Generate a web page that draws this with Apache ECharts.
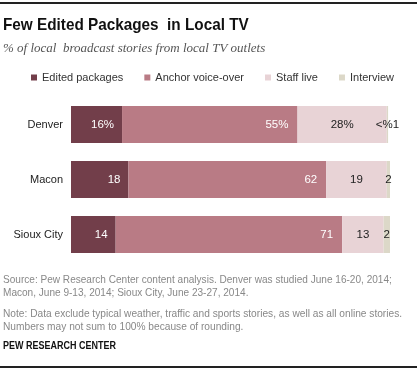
<!DOCTYPE html>
<html>
<head>
<meta charset="utf-8">
<script src="https://cdn.jsdelivr.net/npm/echarts@6/dist/echarts.min.js"></script>
<style>html,body{margin:0;padding:0;background:#fff}#c{width:417px;height:370px}</style>
</head>
<body>
<div id="c"></div>
<script>
var categories = ['Denver', 'Macon', 'Sioux City'];
var seriesNames = ['Edited packages', 'Anchor voice-over', 'Staff live', 'Interview'];
var editedPackages = [16, 18, 14];
var anchorVoiceOver = [55, 62, 71];
var staffLive = [28, 19, 13];
var interview = [0.4, 2, 2];
var editedLabels = ['16%', '18', '14'];
var anchorLabels = ['55%', '62', '71'];
var staffLabels = ['28%', '19', '13'];
var interviewLabels = ['<%1', '2', '2'];

var colors = ['#723E4A', '#B97B85', '#E8D3D6', '#DCD8C8'];
var font = "'Liberation Sans', Arial, sans-serif";

function mk(name, data, labels, color, pos, labColor, dist) {
  return {
    name: name, type: 'bar', stack: 'a', barWidth: 37,
    itemStyle: { color: color },
    data: data,
    label: {
      show: true, position: pos, distance: dist,
      color: labColor, fontFamily: font, fontSize: 11.5,
      formatter: function (p) { return labels[p.dataIndex]; }
    }
  };
}

var chart = echarts.init(document.getElementById('c'), null, { renderer: 'canvas' });
chart.setOption({
  animation: false,
  color: colors,
  grid: { left: 71, right: 27, top: 97, bottom: 108 },
  xAxis: { type: 'value', min: 0, max: 100, show: false },
  yAxis: {
    type: 'category', data: categories, inverse: true,
    axisLine: { show: false }, axisTick: { show: false },
    axisLabel: { color: '#222', fontFamily: font, fontSize: 11, margin: 8 }
  },
  legend: {
    data: seriesNames, top: 72, left: 31, width: 400, padding: 0, icon: 'rect',
    itemWidth: 6, itemHeight: 6, itemGap: 21,
    textStyle: { color: '#333', fontFamily: font, fontSize: 11 }
  },
  series: [
    mk(seriesNames[0], editedPackages, editedLabels, colors[0], 'insideRight', '#fff', 8),
    mk(seriesNames[1], anchorVoiceOver, anchorLabels, colors[1], 'insideRight', '#fff', 9),
    mk(seriesNames[2], staffLive, staffLabels, colors[2], 'inside', '#222', 5),
    mk(seriesNames[3], interview, interviewLabels, colors[3], 'inside', '#222', 5)
  ],
  graphic: [
    { type: 'rect', shape: { x: 0, y: 2, width: 417, height: 2 }, style: { fill: '#222' } },
    { type: 'text', x: 3, y: 17, scaleX: 0.9, style: { text: 'Few Edited Packages  in Local TV', font: 'bold 17px ' + font, fill: '#111' } },
    { type: 'text', x: 3, y: 42, style: { text: '% of local  broadcast stories from local TV outlets', font: 'italic 13px "Liberation Serif", Georgia, serif', fill: '#555' } },
    { type: 'text', x: 3, y: 273, scaleX: 0.915, style: { text: 'Source: Pew Research Center content analysis. Denver was studied June 16-20, 2014;\nMacon, June 9-13, 2014; Sioux City, June 23-27, 2014.', font: '11px ' + font, fill: '#888', lineHeight: 13 } },
    { type: 'text', x: 3, y: 307, scaleX: 0.925, style: { text: 'Note: Data exclude typical weather, traffic and sports stories, as well as all online stories.\nNumbers may not sum to 100% because of rounding.', font: '11px ' + font, fill: '#888', lineHeight: 13 } },
    { type: 'text', x: 3, y: 341, scaleX: 0.9, style: { text: 'PEW RESEARCH CENTER', font: 'bold 10px ' + font, fill: '#111' } },
    { type: 'rect', shape: { x: 0, y: 366, width: 417, height: 2 }, style: { fill: '#222' } }
  ]
});
</script>
</body>
</html>
